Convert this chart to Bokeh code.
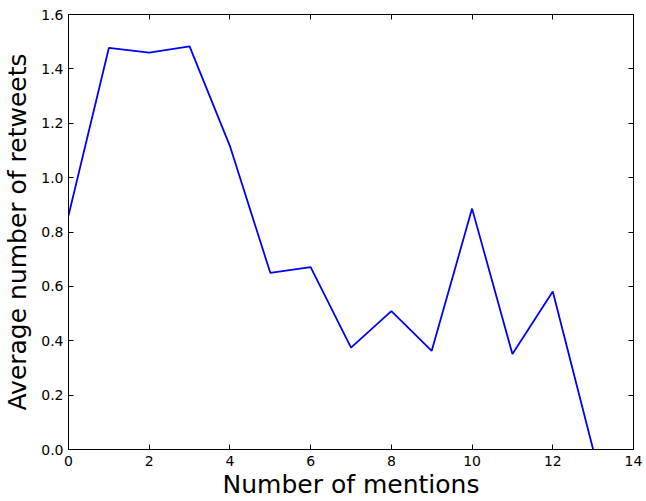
from bokeh.plotting import figure
from bokeh.models import Range1d, LinearAxis, FixedTicker
from bokeh.embed import file_html
from bokeh.resources import INLINE

mentions = [0, 1, 2, 3, 4, 5, 6, 7, 8, 9, 10, 11, 12, 13]
avg_retweets = [0.861, 1.477, 1.460, 1.483, 1.116, 0.650, 0.671,
                0.375, 0.509, 0.363, 0.886, 0.351, 0.581, 0.0]
x_ticks = [0, 2, 4, 6, 8, 10, 12, 14]
y_ticks = [0.0, 0.2, 0.4, 0.6, 0.8, 1.0, 1.2, 1.4, 1.6]
x_label = "Number of mentions"
y_label = "Average number of retweets"

FONT = "DejaVu Sans"

p = figure(width=646, height=501, output_backend="svg", toolbar_location=None,
           x_range=Range1d(0, 14), y_range=Range1d(0, 1.6),
           x_axis_label=x_label, y_axis_label=y_label,
           min_border_left=0, min_border_right=13, min_border_top=14, min_border_bottom=0)

p.line(mentions, avg_retweets, line_color="#0000ff", line_width=1.8)

p.xgrid.visible = False
p.ygrid.visible = False
p.outline_line_color = "black"
p.outline_line_width = 1
p.background_fill_color = "white"
p.border_fill_color = "white"

def style_axis(ax, ticks, labels=True):
    ax.ticker = FixedTicker(ticks=ticks)
    ax.major_tick_in = 5
    ax.major_tick_out = 0
    ax.minor_tick_in = 0
    ax.minor_tick_out = 0
    ax.axis_line_color = "black"
    ax.axis_line_width = 1
    ax.major_tick_line_color = "black"
    ax.major_tick_line_width = 1
    ax.major_label_text_font = FONT
    ax.major_label_text_font_size = "14px"
    ax.major_label_text_color = "black" if labels else None
    ax.axis_label_text_font = FONT
    ax.axis_label_text_font_size = "25px"
    ax.axis_label_text_font_style = "normal"
    ax.axis_label_text_color = "black"

style_axis(p.xaxis[0], x_ticks)
style_axis(p.yaxis[0], y_ticks)
p.xaxis[0].major_label_standoff = 6
p.xaxis[0].axis_label_standoff = 1
p.yaxis[0].major_label_standoff = 5
p.yaxis[0].axis_label_standoff = 6
p.yaxis[0].major_label_overrides = {t: f"{t:.1f}" for t in y_ticks}
p.xaxis[0].major_label_overrides = {t: str(t) for t in x_ticks}

top = LinearAxis()
style_axis(top, x_ticks, labels=False)
top.major_label_text_font_size = "0px"
top.major_label_standoff = 0
top.axis_label_standoff = 0
p.add_layout(top, "above")

right = LinearAxis()
style_axis(right, y_ticks, labels=False)
right.major_label_text_font_size = "0px"
right.major_label_standoff = 0
right.axis_label_standoff = 0
p.add_layout(right, "right")

open("out.html", "w").write(file_html(p, INLINE))
